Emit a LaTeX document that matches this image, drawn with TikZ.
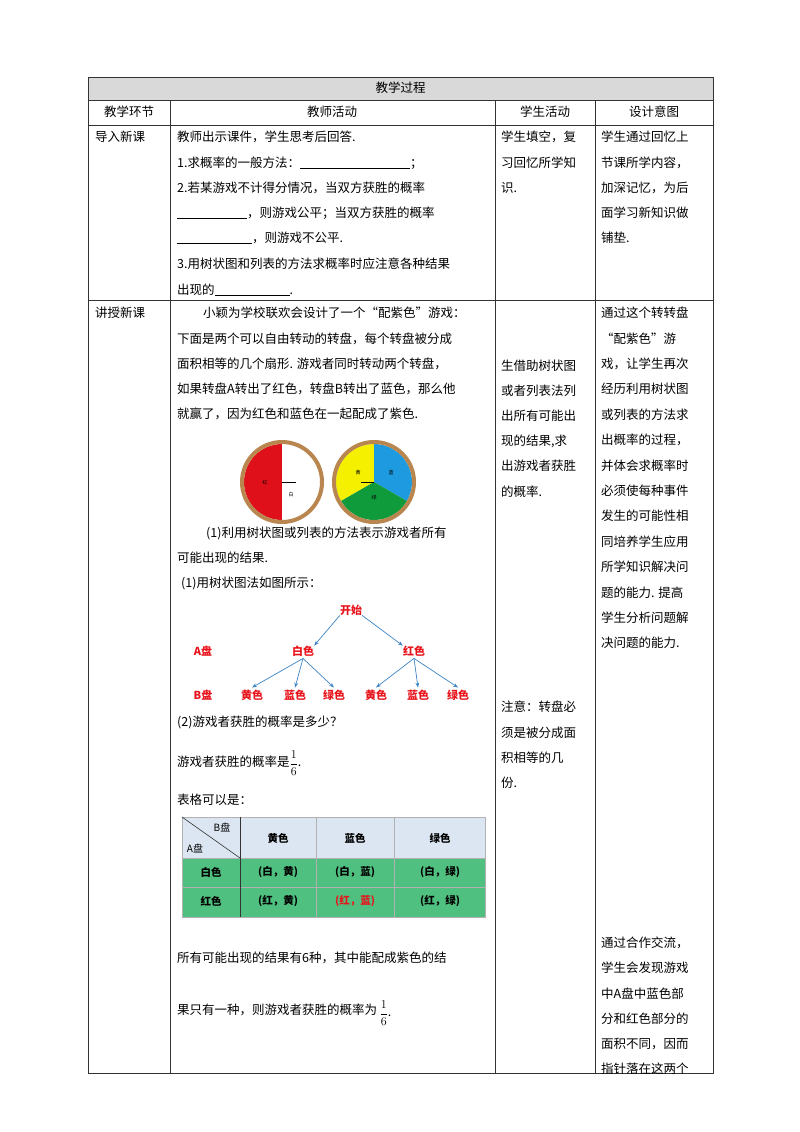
\documentclass[tikz,border=0pt]{standalone}
\usepackage{fontspec}
\setmainfont{Noto Sans CJK SC}
\usetikzlibrary{arrows.meta}
\definecolor{hdr}{HTML}{D9D9D9}
\definecolor{tblue}{HTML}{DCE6F2}
\definecolor{tgreen}{HTML}{4FC080}
\definecolor{tred}{HTML}{E8141C}
\definecolor{arr}{HTML}{3D85C6}
\definecolor{ring}{HTML}{B8864E}
\definecolor{spred}{HTML}{E0101A}
\definecolor{spyel}{HTML}{F5F000}
\definecolor{spblu}{HTML}{1E9BE0}
\definecolor{spgrn}{HTML}{0F9A3C}
\tikzset{
 tx/.style={anchor=west,inner sep=0pt,font=\fontsize{12.5}{14}\selectfont},
 cx/.style={inner sep=0pt,font=\fontsize{12.5}{14}\selectfont},
 rd/.style={inner sep=0pt,text=tred,font=\fontsize{11}{13}\selectfont\bfseries},
 tc/.style={inner sep=0pt,font=\fontsize{10.5}{12}\selectfont\bfseries},
 ar/.style={arr,-{Stealth[length=5pt]},line width=0.7pt},
 grid/.style={line width=0.8pt,draw=black!80}
}
\begin{document}
\begin{tikzpicture}[x=1pt,y=-1pt]
\useasboundingbox[fill=white] (0,0) rectangle (800,1132);
% table frame
\fill[hdr] (88,77) rectangle (713,100);
\draw[grid] (88,77) rectangle (713,1073);
\draw[grid] (88,100) -- (713,100) (88,125) -- (713,125) (88,300) -- (713,300);
\draw[grid] (170,100) -- (170,1073) (495,100) -- (495,1073) (595,100) -- (595,1073);
\node[cx] (title) at (400.5,88) {教学过程};
\node[cx] (h1) at (129,112) {教学环节};
\node[cx] (h2) at (332,112) {教师活动};
\node[cx] (h3) at (545,112) {学生活动};
\node[cx] (h4) at (654,112) {设计意图};
% row 1
\node[tx] (r1a) at (95,137) {导入新课};
\node[tx] (t1) at (177,137) {教师出示课件，学生思考后回答.};
\node[tx] (t2) at (177,163) {1.求概率的一般方法：\underline{\hspace{110pt}}；};
\node[tx] (t3) at (177,188) {2.若某游戏不计得分情况，当双方获胜的概率};
\node[tx] (t4) at (177,213) {\underline{\hspace{70pt}}，则游戏公平；当双方获胜的概率};
\node[tx] (t5) at (177,238) {\underline{\hspace{75pt}}，则游戏不公平.};
\node[tx] (t6) at (177,264) {3.用树状图和列表的方法求概率时应注意各种结果};
\node[tx] (t7) at (177,290) {出现的\underline{\hspace{75pt}}.};
\node[tx] (s1) at (501,137) {学生填空，复};
\node[tx] (s2) at (501,163) {习回忆所学知};
\node[tx] (s3) at (501,188) {识.};
\node[tx] (d1) at (601,137) {学生通过回忆上};
\node[tx] (d2) at (601,163) {节课所学内容，};
\node[tx] (d3) at (601,188) {加深记忆，为后};
\node[tx] (d4) at (601,213) {面学习新知识做};
\node[tx] (d5) at (601,238) {铺垫.};
% row 2
\node[tx] (r2a) at (95,313) {讲授新课};
\node[tx] (p1) at (203,313) {小颖为学校联欢会设计了一个“配紫色”游戏：};
\node[tx] (p2) at (177,339) {下面是两个可以自由转动的转盘，每个转盘被分成};
\node[tx] (p3) at (177,364) {面积相等的几个扇形. 游戏者同时转动两个转盘，};
\node[tx] (p4) at (177,389) {如果转盘A转出了红色，转盘B转出了蓝色，那么他};
\node[tx] (p5) at (177,414) {就赢了，因为红色和蓝色在一起配成了紫色.};
% spinners
\begin{scope}[shift={(282,482)},y=1pt]
\fill[spred] (0,0) -- (90:38) arc (90:270:38) -- cycle;
\fill[white] (0,0) -- (90:38) arc (90:-90:38) -- cycle;
\draw[ring,line width=4pt] (0,0) circle (40);
\draw[line width=0.5pt] (0,0) -- (14,0);
\node[inner sep=0pt,font=\tiny] (sa1) at (-17,0) {红};
\node[inner sep=0pt,font=\tiny] (sa2) at (9,-13) {白};
\end{scope}
\begin{scope}[shift={(374,482)},y=1pt]
\fill[spyel] (0,0) -- (90:38) arc (90:210:38) -- cycle;
\fill[spblu] (0,0) -- (90:38) arc (90:-30:38) -- cycle;
\fill[spgrn] (0,0) -- (-30:38) arc (-30:-150:38) -- cycle;
\draw[ring,line width=4pt] (0,0) circle (40);
\draw[line width=0.5pt] (0,0) -- (-13,0);
\node[inner sep=0pt,font=\tiny] (sb1) at (-16,9) {黄};
\node[inner sep=0pt,font=\tiny] (sb2) at (17,9) {蓝};
\node[inner sep=0pt,font=\tiny] (sb3) at (0,-16) {绿};
\end{scope}
\node[tx] (q1) at (206,533) {(1)利用树状图或列表的方法表示游戏者所有};
\node[tx] (q2) at (177,558) {可能出现的结果.};
\node[tx] (q3) at (181,583) {(1)用树状图法如图所示：};
% tree
\node[rd] (start) at (351,610) {开始};
\node[rd] (w) at (303,651) {白色};
\node[rd] (r) at (414,651) {红色};
\node[rd] (la) at (203,651) {\itshape A\upshape 盘};
\node[rd] (lb) at (203,695) {\itshape B\upshape 盘};
\node[rd] (l1) at (252,695) {黄色};
\node[rd] (l2) at (295,695) {蓝色};
\node[rd] (l3) at (334,695) {绿色};
\node[rd] (l4) at (376,695) {黄色};
\node[rd] (l5) at (418,695) {蓝色};
\node[rd] (l6) at (458,695) {绿色};
\draw[ar] (start.south west) -- (w.north east);
\draw[ar] (start.south east) -- (r.north west);
\foreach \a/\b in {w/l1,w/l2,w/l3,r/l4,r/l5,r/l6}
  \draw[ar] ([yshift=-2pt]\a.south) -- ([yshift=2pt]\b.north);
\node[tx] (q4) at (177,722) {(2)游戏者获胜的概率是多少？};
\node[tx] (q5) at (177,763) {游戏者获胜的概率是$\displaystyle\frac{1}{6}$.};
\node[tx] (q6) at (177,800) {表格可以是：};
% small table
\fill[tblue] (182,817) rectangle (485,858);
\fill[tgreen] (182,858) rectangle (485,917);
\draw[black!30,line width=0.4pt] (182,817) rectangle (485,917);
\draw[black!30,line width=0.4pt] (182,858) -- (485,858) (182,887) -- (485,887)
  (316,817) -- (316,917) (394,817) -- (394,917);
\draw[black!80,line width=0.6pt] (240,817) -- (240,917);
\draw[black!80,line width=0.6pt] (182,817) -- (240,858);
\node[inner sep=0pt,font=\fontsize{10}{12}\selectfont\itshape] (tb) at (222,828) {B\upshape 盘};
\node[inner sep=0pt,font=\fontsize{10}{12}\selectfont\itshape] (ta) at (195,848) {A\upshape 盘};
\node[tc] (c1) at (278,838) {黄色};
\node[tc] (c2) at (355,838) {蓝色};
\node[tc] (c3) at (440,838) {绿色};
\node[tc] (ra) at (211,872) {白色};
\node[tc] (rb) at (211,901) {红色};
\node[tc] (x11) at (278,872) {(白，黄)};
\node[tc] (x12) at (355,872) {(白，蓝)};
\node[tc] (x13) at (440,872) {(白，绿)};
\node[tc] (x21) at (278,901) {(红，黄)};
\node[tc,text=tred] (x22) at (355,901) {(红，蓝)};
\node[tc] (x23) at (440,901) {(红，绿)};
\node[tx] (e1) at (177,958) {所有可能出现的结果有6种，其中能配成紫色的结};
\node[tx] (e2) at (177,1010) {果只有一种，则游戏者获胜的概率为};
\node[tx] (e3) at ([xshift=2pt,yshift=-3pt]e2.east) {$\displaystyle\frac{1}{6}$.};
% col3 row2
\node[tx] (u1) at (501,366) {生借助树状图};
\node[tx] (u2) at (501,391) {或者列表法列};
\node[tx] (u3) at (501,416) {出所有可能出};
\node[tx] (u4) at (501,441) {现的结果,求};
\node[tx] (u5) at (501,466) {出游戏者获胜};
\node[tx] (u6) at (501,492) {的概率.};
\node[tx] (v1) at (501,707) {注意：转盘必};
\node[tx] (v2) at (501,733) {须是被分成面};
\node[tx] (v3) at (501,758) {积相等的几};
\node[tx] (v4) at (501,783) {份.};
% col4 row2
\foreach \t [count=\i from 0] in {通过这个转转盘,“配紫色”游,戏，让学生再次,经历利用树状图,或列表的方法求,出概率的过程，,并体会求概率时,必须使每种事件,发生的可能性相,同培养学生应用,所学知识解决问,题的能力. 提高,学生分析问题解,决问题的能力.}
  \node[tx] (w\i) at (601,{313+25.4*\i}) {\t};
\foreach \t [count=\i from 0] in {通过合作交流，,学生会发现游戏,中A盘中蓝色部,分和红色部分的,面积不同，因而,指针落在这两个}
  \node[tx] (z\i) at (601,{943+25.2*\i}) {\t};
\end{tikzpicture}
\end{document}
